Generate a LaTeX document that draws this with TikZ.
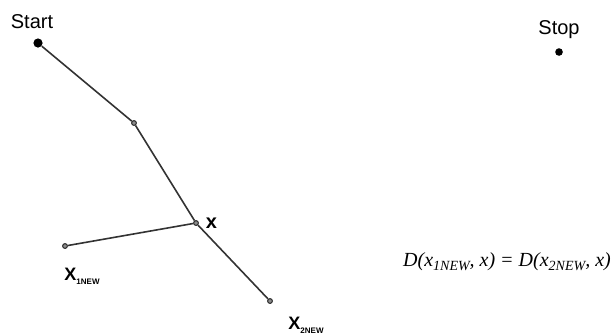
\documentclass[tikz,border=0pt]{standalone}
\usepackage{fontspec}
\setmainfont{Liberation Sans}
\newfontfamily\timesfont{Liberation Serif}

\begin{document}
\begin{tikzpicture}[
        x=0.5pt, y=-0.5pt,
        every label/.style={font=\normalsize},
        bigdot/.style={circle, fill=black, minimum size=4.6pt, inner sep=0pt},
        smalldot/.style={circle, draw=black!85, fill=black!45, line width=0.5pt, minimum size=2.4pt, inner sep=0pt},
        path/.style={line width=0.8pt, black!80}
    ]
    \useasboundingbox (0,0) rectangle (613,334);

    % Puntos
    \node[bigdot, label={[xshift=-3pt, yshift=1pt]above:Start}] (start) at (38,43) {};
    \node[bigdot, minimum size=3.8pt, label={[yshift=1pt]above:Stop}] (stop) at (559,52) {};
    \node[smalldot]                    (p1)    at (134,123) {};
    \node[smalldot, label={[font=\bfseries]right:x}] (x) at (196,223) {};
    \node[smalldot]                    (x1)    at (65,246)  {};
    \node[smalldot]                    (x2)    at (270,301) {};

    % Etiquetas
    \node[font=\bfseries\small] (x1lbl) at (82,276) {X\raisebox{-0.45ex}{\fontsize{4}{4}\selectfont 1NEW}};
    \node[font=\bfseries\small] (x2lbl) at (306,325) {X\raisebox{-0.45ex}{\fontsize{4}{4}\selectfont 2NEW}};
    \node[font=\timesfont\itshape] (dist) at (507,262)
        {D(x\raisebox{-0.4ex}{\scriptsize 1NEW}, x) = D(x\raisebox{-0.4ex}{\scriptsize 2NEW}, x)};

    % Caminos
    \draw[path] (start) -- (p1);
    \draw[path] (p1) -- (x);
    \draw[path] (x) -- (x1);
    \draw[path] (x) -- (x2);

\end{tikzpicture}
\end{document}
